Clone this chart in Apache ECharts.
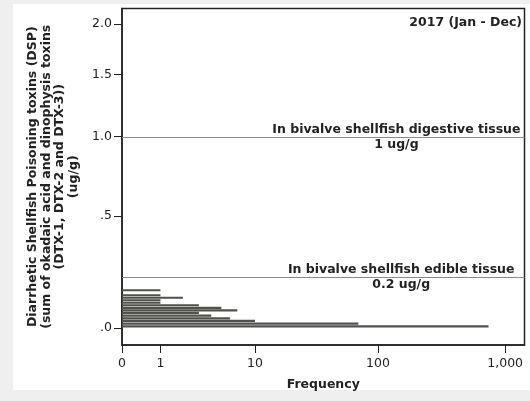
<!DOCTYPE html>
<html>
<head>
<meta charset="utf-8">
<script src="https://cdn.jsdelivr.net/npm/echarts@6/dist/echarts.min.js"></script>
<style>
  html, body { margin: 0; padding: 0; background: #efefef; }
  #panel { position: absolute; left: 13px; top: 4px; width: 517px; height: 386px; background: #ffffff; }
  #chart { position: absolute; left: 0; top: 0; width: 530px; height: 401px; }
</style>
</head>
<body>
<div id="panel"></div>
<div id="chart"></div>
<script>
// DSP concentration bins (ug/g), lower edges, width 0.01
const binStart = [0.00, 0.01, 0.02, 0.03, 0.04, 0.05, 0.06, 0.07, 0.08, 0.09, 0.10, 0.11, 0.12, 0.13, 0.14]
const binWidth = 0.01
// frequency per bin
const frequency = [740, 70, 10, 6, 4, 3, 7, 5, 3, 1, 1, 2, 1, 0, 1]

const xTicks = [0, 1, 10, 100, 1000]
const xTickLabels = ['0', '1', '10', '100', '1,000']
const yTicks = [0, 0.5, 1.0, 1.5, 2.0]
const yTickLabels = ['.0', '.5', '1.0', '1.5', '2.0']

const limits = [1, 0.2]
const limitLabels = [
  ['In bivalve shellfish digestive tissue', '1 ug/g'],
  ['In bivalve shellfish edible tissue', '0.2 ug/g']
]

// both axes are drawn on a log10(v + 1) scale
const tf = (v) => Math.log10(v + 1)

const font = 'DejaVu Sans'
const ink = '#222'

const barData = binStart.map((lo, i) => [tf(lo), tf(lo + binWidth), tf(frequency[i])])

const chart = echarts.init(document.getElementById('chart'))

chart.setOption({
  animation: false,
  title: {
    text: '2017 (Jan - Dec)',
    right: 3,
    top: 11,
    textStyle: { fontFamily: font, fontSize: 12.5, fontWeight: 'bold', color: ink }
  },
  grid: {
    left: 122,
    right: 5.5,
    top: 8.5,
    bottom: 56,
    show: true,
    borderColor: ink,
    borderWidth: 1.5
  },
  xAxis: {
    type: 'value',
    min: 0,
    max: 3.152,
    name: 'Frequency',
    nameLocation: 'middle',
    nameGap: 33,
    nameTextStyle: { fontFamily: font, fontSize: 12.5, fontWeight: 'bold', color: ink },
    axisLine: { onZero: false, lineStyle: { color: ink, width: 1.5 } },
    axisTick: { length: 8, lineStyle: { color: ink, width: 1 }, customValues: xTicks.map(tf) },
    axisLabel: {
      customValues: xTicks.map(tf),
      margin: 12,
      fontFamily: font,
      fontSize: 12.5,
      color: ink,
      formatter: (v) => xTickLabels[xTicks.findIndex((t) => Math.abs(tf(t) - v) < 1e-6)]
    },
    splitLine: { show: false }
  },
  yAxis: {
    type: 'value',
    min: -0.0267,
    max: 0.5016,
    name: 'Diarrhetic Shellfish Poisoning toxins (DSP)\n(sum of okadaic acid and dinophysis toxins\n(DTX-1, DTX-2 and DTX-3))\n(ug/g)',
    nameLocation: 'middle',
    nameRotate: 90,
    nameGap: 42,
    nameTextStyle: { fontFamily: font, fontSize: 12.5, fontWeight: 'bold', color: ink, lineHeight: 13.4, align: 'center' },
    axisLine: { lineStyle: { color: ink, width: 1.5 } },
    axisTick: { length: 8, lineStyle: { color: ink, width: 1 }, customValues: yTicks.map(tf) },
    axisLabel: {
      customValues: yTicks.map(tf),
      margin: 10,
      fontFamily: font,
      fontSize: 12.5,
      color: ink,
      formatter: (v) => yTickLabels[yTicks.findIndex((t) => Math.abs(tf(t) - v) < 1e-6)]
    },
    splitLine: { show: false }
  },
  series: [
    {
      type: 'custom',
      silent: true,
      data: barData,
      renderItem: (params, api) => {
        const p0 = api.coord([0, api.value(0)])
        const p1 = api.coord([api.value(2), api.value(1)])
        return {
          type: 'rect',
          shape: { x: p0[0], y: p1[1], width: p1[0] - p0[0], height: Math.max(p0[1] - p1[1] - 0.4, 0) },
          style: { fill: '#50514a' }
        }
      }
    },
    {
      type: 'line',
      data: [],
      silent: true,
      markLine: {
        silent: true,
        symbol: ['none', 'none'],
        lineStyle: { color: '#8a8a8a', width: 1, type: 'solid' },
        label: {
          position: 'insideEnd',
          rich: {
            a: { fontFamily: font, fontSize: 12.5, fontWeight: 'bold', color: ink, lineHeight: 15, align: 'center' },
            b: { fontFamily: font, fontSize: 12.5, fontWeight: 'bold', color: ink, lineHeight: 15, align: 'center' }
          }
        },
        data: limits.map((v, i) => ({
          yAxis: tf(v),
          label: {
            formatter: '{a|' + limitLabels[i][0] + '}\n{b|' + limitLabels[i][1] + '}',
            distance: i === 0 ? 4 : 10
          }
        }))
      }
    }
  ]
})
</script>
</body>
</html>
